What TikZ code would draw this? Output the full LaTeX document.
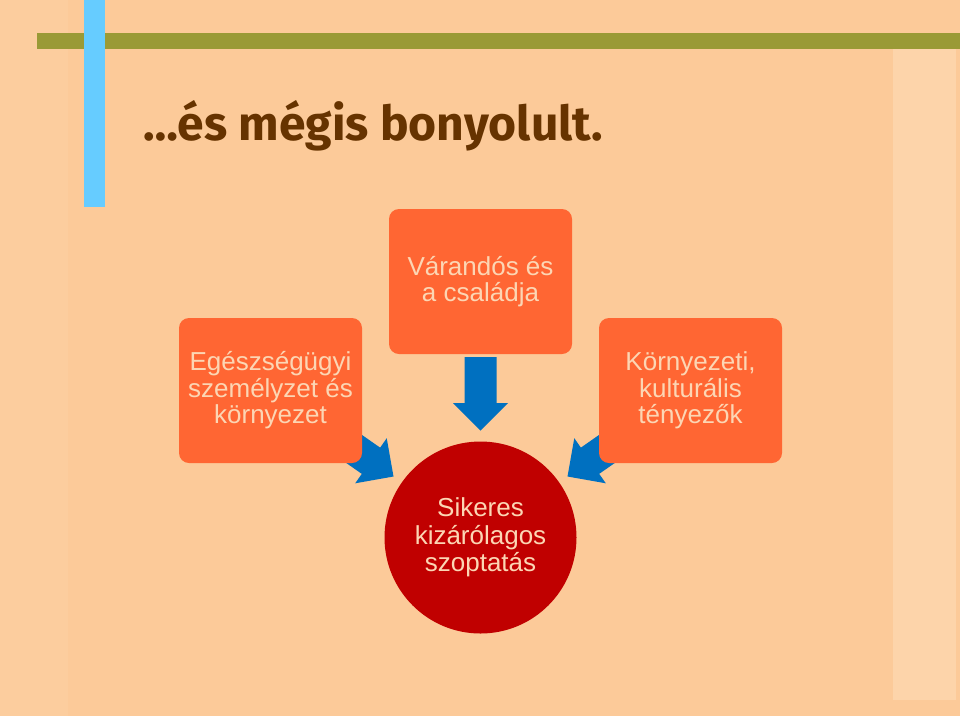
\documentclass[tikz,border=0pt]{standalone}
\usepackage{fontspec}
\setmainfont{Liberation Sans}
\newfontfamily\titlefont{Fira Sans}
\usetikzlibrary{calc}
\definecolor{bgpeach}{RGB}{252,202,153}
\definecolor{bgside}{RGB}{252,205,158}
\definecolor{bglight}{RGB}{253,212,170}
\definecolor{olivebar}{RGB}{154,154,54}
\definecolor{skyblue}{RGB}{102,204,255}
\definecolor{titlebrown}{RGB}{102,51,0}
\definecolor{boxorange}{RGB}{255,102,51}
\definecolor{circred}{RGB}{192,0,0}
\definecolor{arrowblue}{RGB}{0,112,192}
\definecolor{lighttext}{RGB}{252,214,180}
\pgfdeclarelayer{back}
\pgfdeclarelayer{mid}
\pgfsetlayers{back,mid,main}
\newcommand\blockarrow[2]{%
  \coordinate (ba-h) at ($(#2)!27.5pt!(#1)$);
  \fill[arrowblue] ($(#1)!16pt!90:(#2)$) -- ($(ba-h)!16pt!-90:(#1)$) -- ($(ba-h)!27.5pt!-90:(#1)$) -- (#2) -- ($(ba-h)!27.5pt!90:(#1)$) -- ($(ba-h)!16pt!90:(#1)$) -- ($(#1)!16pt!-90:(#2)$) -- cycle;}
\begin{document}
\begin{tikzpicture}[x=1pt,y=-1pt,
  factorbox/.style={draw=none, fill=boxorange, rounded corners=10pt, minimum width=183pt, minimum height=145pt, inner sep=0pt, outer sep=0pt, align=center, text=lighttext, font=\fontsize{26}{26.5}\selectfont},
  goalcircle/.style={circle, draw=none, fill=circred, minimum size=192pt, inner sep=0pt, outer sep=0pt, align=center, text=lighttext, font=\fontsize{26}{27.5}\selectfont},
  titletext/.style={anchor=base west, inner sep=0pt, text=titlebrown, font=\titlefont\bfseries\fontsize{48}{48}\selectfont}
]
\useasboundingbox (0,0) rectangle (960,716);
\begin{pgfonlayer}{back}
  \fill[bgpeach] (0,0) rectangle (960,716);
  \fill[bgside] (0,0) rectangle (68,716);
  \fill[bglight] (893,48) rectangle (956,700);
  \fill[olivebar] (37,32.5) rectangle (960,48.5);
  \fill[skyblue] (84,0) rectangle (104.5,207);
\end{pgfonlayer}

\node[titletext] (title) at (143,140) {…és mégis bonyolult.};

\node[factorbox] (top) at (480.5,281.5) {Várandós és\\a családja};
\node[factorbox] (left) at (270.5,390.5) {Egészségügyi\\személyzet és\\környezet};
\node[factorbox] (right) at (690.5,390.5) {Környezeti,\\kulturális\\tényezők};
\node[goalcircle] (goal) at (480.5,537.5) {Sikeres\\kizárólagos\\szoptatás};

\coordinate (topfoot) at ($(top.south)+(0,3)$);
\coordinate (ctip) at (480.5,430.5);
\coordinate (ltip) at (393.5,476.5);
\coordinate (rtip) at (567.5,476.5);

\begin{pgfonlayer}{mid}
  \blockarrow{topfoot}{ctip}
  \blockarrow{left}{ltip}
  \blockarrow{right}{rtip}
\end{pgfonlayer}
\end{tikzpicture}
\end{document}
